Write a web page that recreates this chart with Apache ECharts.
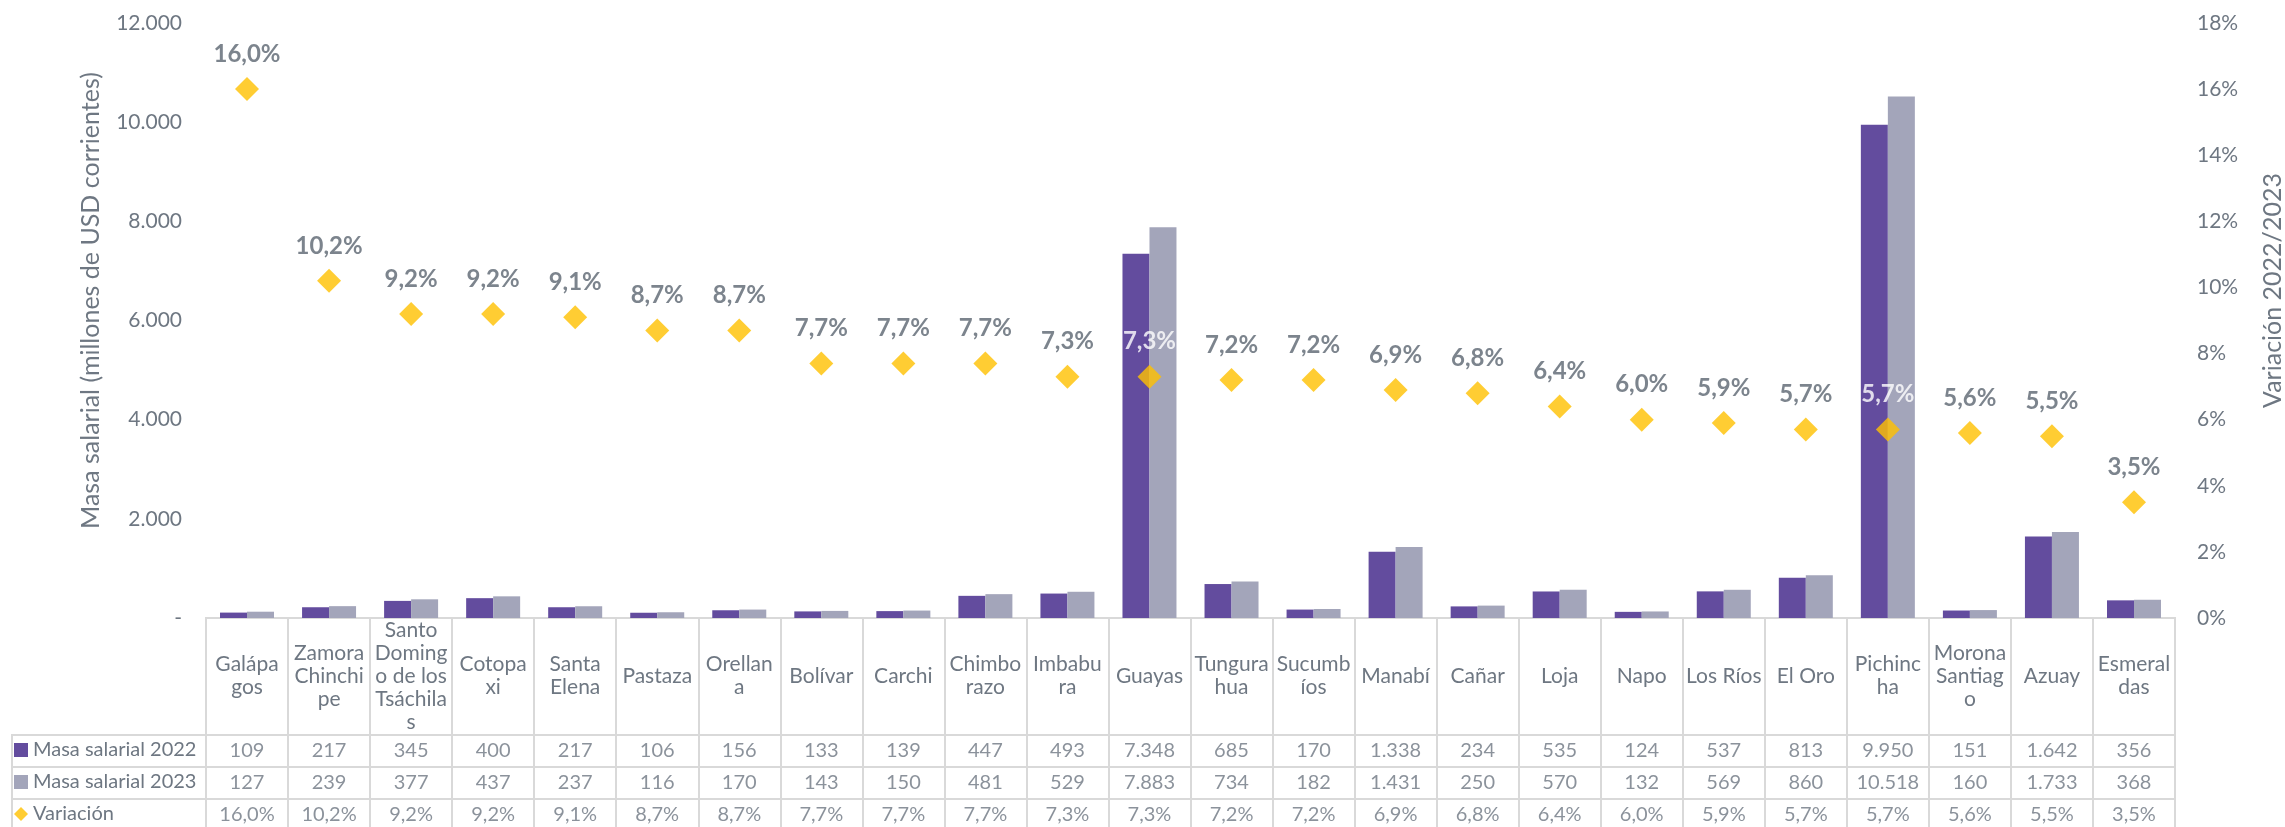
<!DOCTYPE html>
<html>
<head>
<meta charset="utf-8">
<script src="https://cdn.jsdelivr.net/npm/echarts@6/dist/echarts.min.js"></script>
<style>
  html, body { margin: 0; padding: 0; background: #fff; }
  #chart { width: 2285px; height: 827px; }
</style>
</head>
<body>
<div id="chart"></div>
<script>
var provincias = ['Galápagos', 'Zamora Chinchipe', 'Santo Domingo de los Tsáchilas', 'Cotopaxi', 'Santa Elena',
    'Pastaza', 'Orellana', 'Bolívar', 'Carchi', 'Chimborazo', 'Imbabura', 'Guayas', 'Tungurahua', 'Sucumbíos',
    'Manabí', 'Cañar', 'Loja', 'Napo', 'Los Ríos', 'El Oro', 'Pichincha', 'Morona Santiago', 'Azuay', 'Esmeraldas'];
// etiquetas cortadas como en la tabla original
var etiquetas = ['Galápa\ngos', 'Zamora\nChinchi\npe', 'Santo\nDoming\no de los\nTsáchila\ns', 'Cotopa\nxi', 'Santa\nElena',
    'Pastaza', 'Orellan\na', 'Bolívar', 'Carchi', 'Chimbo\nrazo', 'Imbabu\nra', 'Guayas', 'Tungura\nhua', 'Sucumb\níos',
    'Manabí', 'Cañar', 'Loja', 'Napo', 'Los Ríos', 'El Oro', 'Pichinc\nha', 'Morona\nSantiag\no', 'Azuay', 'Esmeral\ndas'];
var masa2022 = [109, 217, 345, 400, 217, 106, 156, 133, 139, 447, 493, 7348, 685, 170, 1338, 234, 535, 124, 537, 813, 9950, 151, 1642, 356];
var masa2023 = [127, 239, 377, 437, 237, 116, 170, 143, 150, 481, 529, 7883, 734, 182, 1431, 250, 570, 132, 569, 860, 10518, 160, 1733, 368];
var variacion = [16.0, 10.2, 9.2, 9.2, 9.1, 8.7, 8.7, 7.7, 7.7, 7.7, 7.3, 7.3, 7.2, 7.2, 6.9, 6.8, 6.4, 6.0, 5.9, 5.7, 5.7, 5.6, 5.5, 3.5];
var filas = ['Masa salarial 2022', 'Masa salarial 2023', 'Variación'];
var etiquetaBlanca = ['Guayas', 'Pichincha'];

var fuente = 'Lato';
var gris = '#6E7782';
var linea = '#D9D9D9';

function miles(v) {
    return String(v).replace(/\B(?=(\d{3})+(?!\d))/g, '.');
}
function pct(v) {
    return v.toFixed(1).replace('.', ',') + '%';
}

var varData = variacion.map(function (v, i) {
    var blanco = etiquetaBlanca.indexOf(provincias[i]) >= 0;
    return { value: v, label: { color: blanco ? '#fff' : '#5B6570' } };
});

var celdas = [];
provincias.forEach(function (p, i) {
    for (var r = 0; r < 3; r++) celdas.push([i, r]);
});
var columnas = [masa2022, masa2023, variacion];

// una leyenda por fila de la tabla
var iconos = ['rect', 'rect', 'diamond'];
var leyendas = filas.map(function (f, r) {
    return {
        orient: 'vertical', left: 14, top: 739 + r * 32, padding: 0,
        itemWidth: 14, itemHeight: 14, itemGap: 4, selectedMode: false,
        textStyle: { fontSize: 20, color: gris, fontFamily: fuente, lineHeight: 22 },
        data: [{ name: f, icon: iconos[r] }]
    };
});

var myChart = echarts.init(document.getElementById('chart'));
var option = {
    textStyle: { fontFamily: fuente },
    animation: false,
    legend: leyendas,
    grid: [
        { left: 206, right: 110, top: 23, height: 595, outerBoundsMode: 'none' },
        { left: 206, right: 110, top: 618, height: 117, show: true, borderColor: linea, borderWidth: 2, outerBoundsMode: 'none' },
        { left: 206, right: 110, top: 735, height: 96, show: true, borderColor: linea, borderWidth: 2, outerBoundsMode: 'none' },
        { left: 12, width: 194, top: 735, height: 96, show: true, borderColor: linea, borderWidth: 2, outerBoundsMode: 'none' }
    ],
    xAxis: [
        {
            type: 'category', gridIndex: 0, data: etiquetas,
            axisLine: { show: false }, axisTick: { show: false },
            axisLabel: { interval: 0, margin: 58, verticalAlign: 'middle', fontSize: 21, lineHeight: 23, color: gris }
        },
        {
            type: 'category', gridIndex: 1, data: provincias,
            axisLine: { show: false }, axisTick: { show: false }, axisLabel: { show: false },
            splitLine: { show: true, interval: 0, lineStyle: { color: linea, width: 2 } }
        },
        {
            type: 'category', gridIndex: 2, data: provincias,
            axisLine: { show: false }, axisTick: { show: false }, axisLabel: { show: false },
            splitLine: { show: true, interval: 0, lineStyle: { color: linea, width: 2 } }
        },
        { type: 'value', gridIndex: 3, show: false }
    ],
    yAxis: [
        {
            type: 'value', gridIndex: 0, min: 0, max: 12000, interval: 2000,
            name: 'Masa salarial (millones de USD corrientes)', nameLocation: 'middle', nameGap: 103,
            nameTextStyle: { fontSize: 25, color: gris, padding: [0, 0, 0, 40] },
            axisLine: { show: false }, axisTick: { show: false }, splitLine: { show: false },
            axisLabel: {
                margin: 24, fontSize: 21, color: gris,
                formatter: function (v) { return v === 0 ? '-' : miles(v); }
            }
        },
        {
            type: 'value', gridIndex: 0, min: 0, max: 18, interval: 2, position: 'right',
            name: 'Variación 2022/2023', nameLocation: 'middle', nameGap: 85, nameRotate: 90,
            nameTextStyle: { fontSize: 25, color: gris, padding: [0, 0, 0, 60] },
            axisLine: { show: false }, axisTick: { show: false }, splitLine: { show: false },
            axisLabel: { margin: 22, fontSize: 21, color: gris, formatter: '{value}%' }
        },
        { type: 'value', gridIndex: 1, show: false },
        {
            type: 'category', gridIndex: 2, data: filas, inverse: true,
            axisLine: { show: false }, axisTick: { show: false }, axisLabel: { show: false },
            splitLine: { show: true, interval: 0, lineStyle: { color: linea, width: 2 } }
        },
        {
            type: 'category', gridIndex: 3, data: filas, inverse: true,
            axisLine: { show: false }, axisTick: { show: false }, axisLabel: { show: false },
            splitLine: { show: true, interval: 0, lineStyle: { color: linea, width: 2 } }
        }
    ],
    series: [
        {
            name: 'Masa salarial 2022', type: 'bar', xAxisIndex: 0, yAxisIndex: 0,
            data: masa2022, barWidth: 27, barGap: '0%',
            itemStyle: { color: '#634C9E' }
        },
        {
            name: 'Masa salarial 2023', type: 'bar', xAxisIndex: 0, yAxisIndex: 0,
            data: masa2023, barWidth: 27, barGap: '0%',
            itemStyle: { color: '#A3A5BA' }
        },
        {
            name: 'Variación', type: 'scatter', xAxisIndex: 0, yAxisIndex: 1,
            data: varData, symbol: 'diamond', symbolSize: 24, z: 5,
            itemStyle: { color: '#FFC000' },
            label: {
                show: true, position: 'top', distance: 11,
                fontSize: 24, fontWeight: 'bold',
                formatter: function (p) { return pct(p.value); }
            }
        },
        {
            name: 'tabla', type: 'scatter', xAxisIndex: 2, yAxisIndex: 3,
            data: celdas, symbolSize: 1, silent: true,
            itemStyle: { color: 'rgba(0,0,0,0)' },
            label: {
                show: true, position: 'inside', fontSize: 20, color: gris,
                formatter: function (p) {
                    var v = columnas[p.value[1]][p.value[0]];
                    return p.value[1] === 2 ? pct(v) : miles(v);
                }
            }
        }
    ]
};
myChart.setOption(option);
</script>
</body>
</html>
